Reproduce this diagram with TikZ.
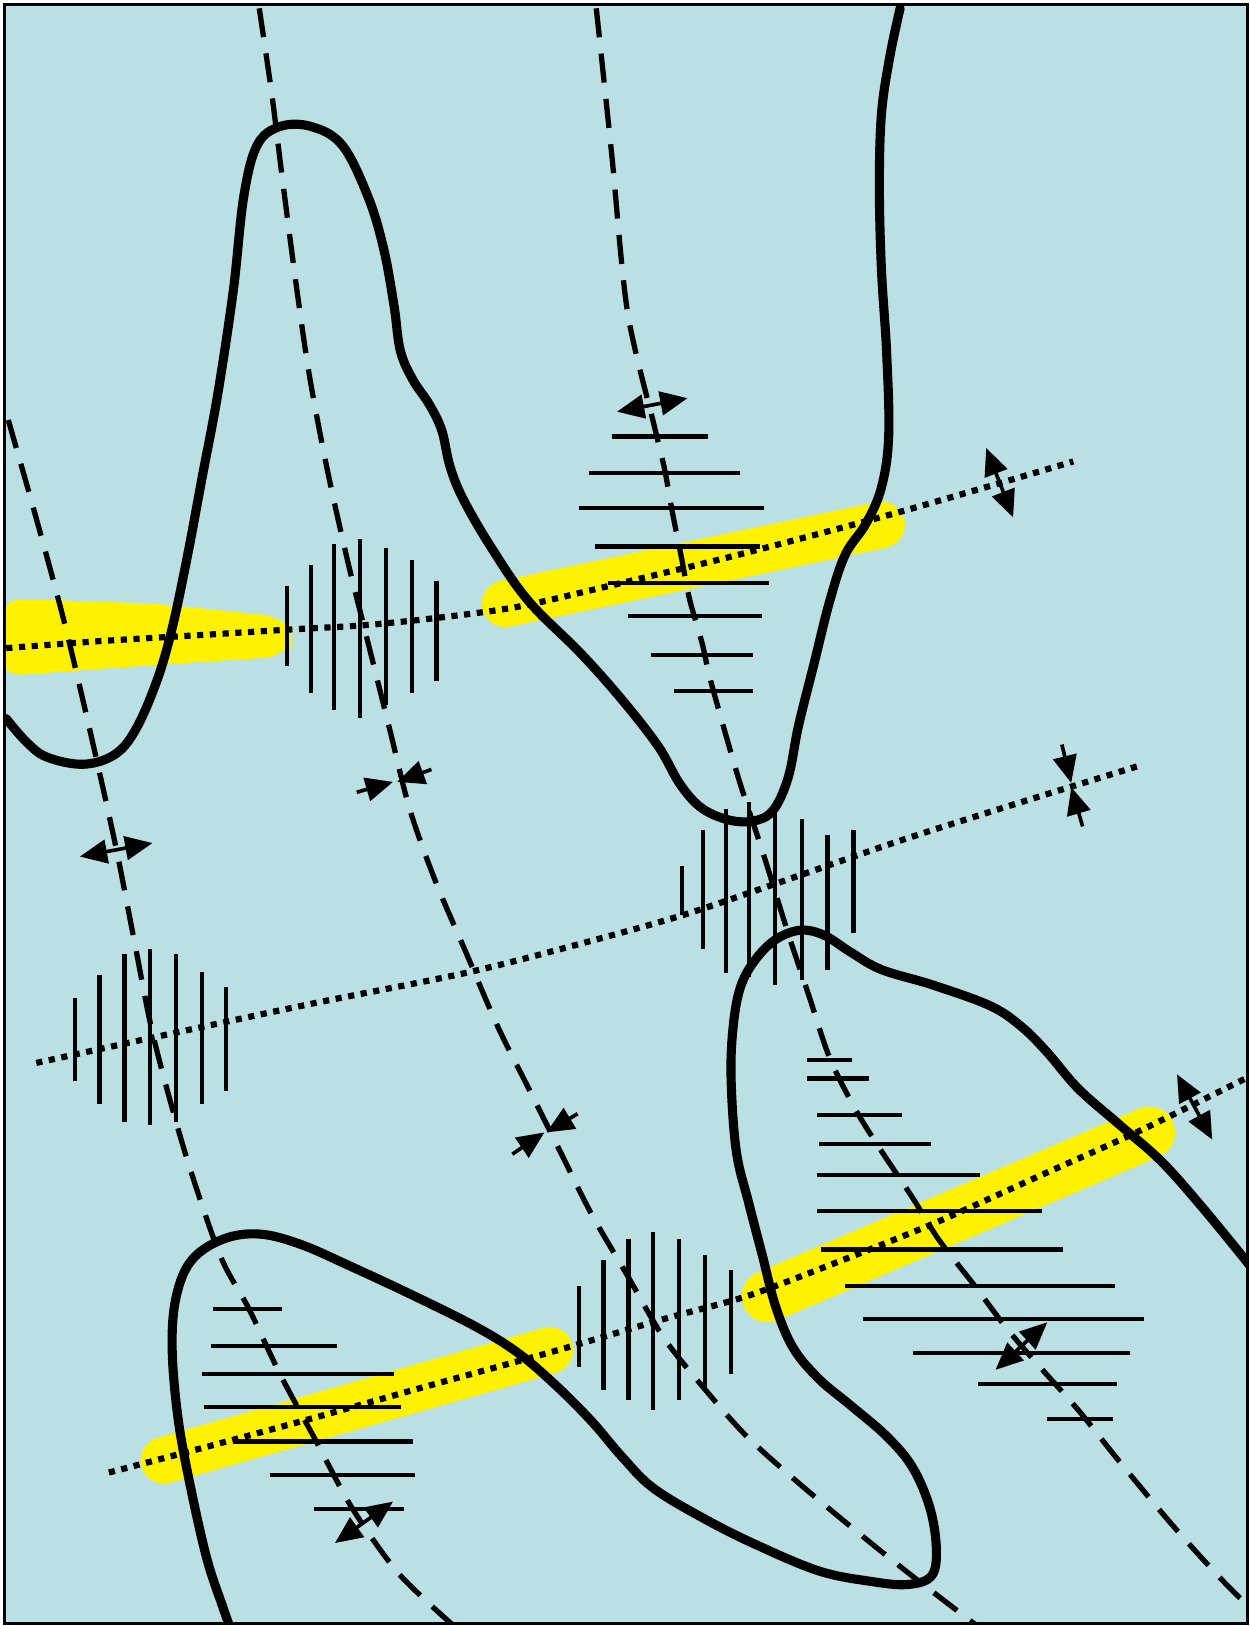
\documentclass[tikz,border=0pt]{standalone}
\usetikzlibrary{arrows.meta}
\definecolor{bgblue}{RGB}{186,224,227}
\begin{document}
\begin{tikzpicture}[x=0.02cm,y=-0.02cm,
 bnd/.style={line width=5pt,line cap=round,line join=round},
 dsh/.style={line width=2.9pt,dash pattern=on 16pt off 9pt},
 dtt/.style={line width=3.4pt,dash pattern=on 3.4pt off 3.6pt},
 hat/.style={line width=2.3pt},
 hl/.style={yellow,line width=0.9cm,line cap=round},
 arr/.style={line width=2pt,-{Triangle[length=15pt,width=13pt]}},
 dbl/.style={line width=2pt,{Triangle[length=15pt,width=13pt]}-{Triangle[length=15pt,width=13pt]}}]
\useasboundingbox (0,0) rectangle (1205,1568);
\fill[white] (0,0) rectangle (1205,1568);
\fill[bgblue] (4,4) rectangle (1203,1566);
\begin{scope}
\clip (4,4) rectangle (1203,1566);
% yellow highlights
\fill[yellow,rounded corners=12pt] (0,577) -- (150,582) -- (275,595) -- (287,613) -- (275,633) -- (150,641) -- (0,652) -- cycle;
\draw[hl] (487,582) -- (850,506);
\draw[hl,line width=1.0cm] (740,1250) -- (1108,1092);
\draw[hl] (158,1408) -- (530,1302);
% dashed lines
\draw[dsh] plot[smooth] coordinates {(8,405) (35,500) (62,600) (88,710) (112,818) (130,910) (148,1000) (178,1110) (212,1210) (240,1262) (270,1325) (305,1390) (340,1455) (385,1518) (440,1570)};
\draw[dsh] plot[smooth] coordinates {(250,8) (262,90) (272,170) (285,270) (298,360) (315,450) (335,540) (355,620) (375,700) (395,780) (420,850) (450,920) (480,990) (510,1050) (540,1110) (570,1170) (605,1230) (640,1290) (680,1340) (720,1385) (770,1430) (830,1480) (880,1520) (945,1570)};
\draw[dsh] plot[smooth] coordinates {(575,8) (590,150) (605,300) (631,411) (641,453) (648,492) (657,537) (665,578) (677,620) (686,659) (712,750) (735,820) (760,900) (780,960) (800,1020) (825,1070) (850,1110) (880,1155) (905,1195) (940,1240) (970,1280) (1000,1315) (1040,1360) (1080,1410) (1130,1470) (1175,1520) (1205,1550)};
% dotted lines
\draw[dtt] plot[smooth] coordinates {(6,625) (100,618) (200,612) (280,607) (350,603) (420,596) (500,585) (600,562) (700,538) (800,512) (870,493) (950,470) (1035,445)};
\draw[dtt] plot[smooth] coordinates {(35,1025) (150,1000) (300,968) (450,938) (560,910) (660,882) (760,848) (870,810) (980,775) (1100,738)};
\draw[dtt] plot[smooth] coordinates {(105,1420) (200,1395) (300,1368) (400,1340) (480,1318) (545,1300) (640,1272) (720,1250) (800,1220) (900,1180) (1000,1135) (1100,1090) (1205,1038)};
% thick boundary curves
\draw[bnd] plot[smooth,tension=0.6] coordinates {(6,693) (25,715) (45,730) (80,737) (110,728) (130,705) (150,660) (165,610) (180,540) (195,460) (210,380) (225,280) (235,190) (248,140) (270,122) (300,122) (330,140) (355,190) (370,240) (380,295) (386,338) (398,366) (414,390) (426,415) (434,450) (447,482) (475,530) (510,580) (560,630) (600,675) (635,720) (655,755) (675,778) (700,790) (725,792) (745,782) (760,750) (770,700) (785,640) (800,580) (815,535) (835,505) (850,470) (857,420) (855,340) (850,260) (848,180) (850,110) (858,55) (868,8)};
\draw[bnd] plot[smooth,tension=0.6] coordinates {(1205,1220) (1160,1165) (1120,1120) (1080,1085) (1040,1050) (1010,1015) (985,990) (955,970) (900,950) (850,935) (820,918) (795,902) (772,897) (748,906) (728,926) (714,952) (707,990) (705,1040) (710,1110) (722,1160) (735,1210) (748,1260) (765,1300) (790,1330) (820,1355) (855,1385) (880,1415) (897,1455) (903,1495) (898,1520) (875,1528) (840,1525) (790,1515) (730,1490) (680,1465) (630,1435) (600,1405) (570,1370) (535,1335) (500,1305) (460,1280) (400,1250) (340,1222) (290,1200) (250,1190) (215,1195) (185,1215) (170,1250) (166,1300) (172,1370) (185,1440) (200,1505) (215,1550) (222,1570)};
% vertical hatch groups
\foreach \x/\a/\b in {277/565/642,300/545/668,322/525/685,347/520/692,372/528/680,397/540/668,421/560/657}
  \draw[hat] (\x,\a) -- (\x,\b);
\foreach \x/\a/\b in {658/835/882,678/800/915,700/780/938,722/773/942,747/775/950,773/790/945,798/805/935,823/800/900}
  \draw[hat] (\x,\a) -- (\x,\b);
\foreach \x/\a/\b in {72/962/1042,96/940/1065,120/920/1082,145/915/1085,170/920/1082,195/937/1065,218/952/1052}
  \draw[hat] (\x,\a) -- (\x,\b);
\foreach \x/\a/\b in {558/1240/1318,582/1215/1340,606/1195/1350,630/1188/1360,655/1195/1350,680/1210/1340,705/1225/1325}
  \draw[hat] (\x,\a) -- (\x,\b);
% horizontal hatch groups
\foreach \y/\a/\b in {421/590/683,456/568/714,490/558/737,527/574/733,562/586/742,594/606/735,632/628/726,666/650/726}
  \draw[hat] (\a,\y) -- (\b,\y);
\foreach \y/\a/\b in {1022/778/822,1040/778/838,1075/788/870,1103/790/898,1133/788/945,1168/788/1005,1205/792/1025,1240/815/1075,1272/832/1103,1305/880/1090,1335/943/1077,1368/1010/1073}
  \draw[hat] (\a,\y) -- (\b,\y);
\foreach \y/\a/\b in {1262/205/272,1298/203/325,1325/195/380,1357/197/387,1390/225/398,1422/260/400,1455/303/390}
  \draw[hat] (\a,\y) -- (\b,\y);
% extension arrows
\draw[dbl] (595,397) -- (663,384);
\draw[dbl] (77,826) -- (147,813);
\draw[dbl] (951,432) -- (977,499);
\draw[dbl] (1135,1036) -- (1169,1099);
\draw[dbl] (1010,1275) -- (960,1321);
\draw[dbl] (379,1448) -- (323,1488);
% compression arrows
\draw[arr] (344,764) -- (379,754);
\draw[arr] (416,742) -- (383,754);
\draw[arr] (494,1113) -- (525,1092);
\draw[arr] (557,1074) -- (527,1092);
\draw[arr] (1024,718) -- (1033,755);
\draw[arr] (1044,797) -- (1033,759);
\end{scope}
\draw[line width=1.7pt] (4,4) rectangle (1203,1566);
\end{tikzpicture}
\end{document}
